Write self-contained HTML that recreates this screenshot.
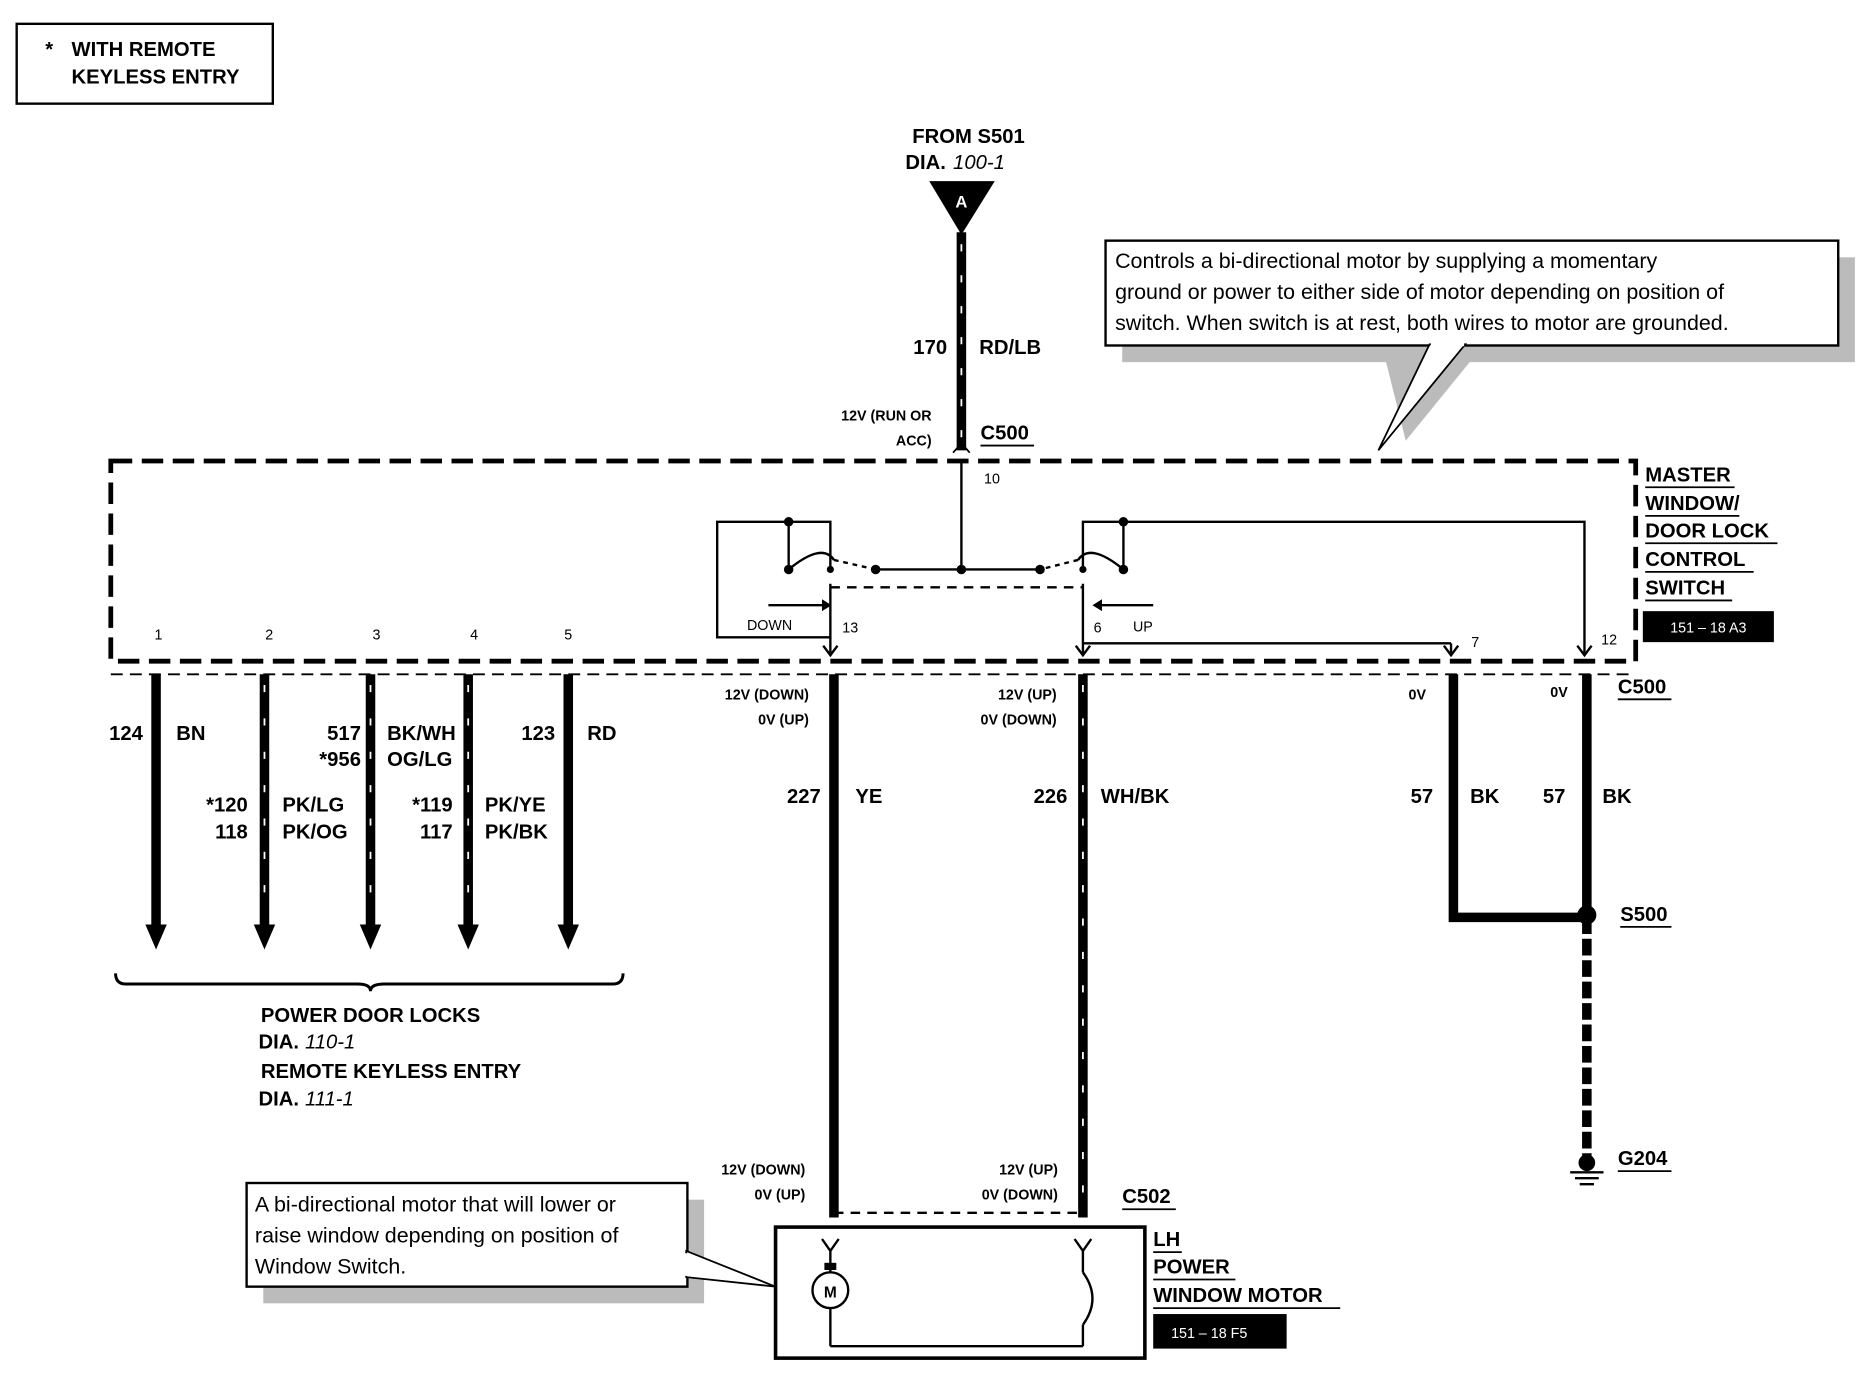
<!DOCTYPE html>
<html><head><meta charset="utf-8"><style>
html,body{margin:0;padding:0;background:#fff;}
svg{display:block;}
text{font-family:"Liberation Sans",sans-serif;font-weight:bold;fill:#000;}
.n{font-weight:normal;}
</style></head><body>
<svg width="1868" height="1376" viewBox="0 0 1568 1155" preserveAspectRatio="none" xmlns="http://www.w3.org/2000/svg">
<!-- top-left legend -->
<rect x="14" y="20" width="215" height="67" fill="none" stroke="#000" stroke-width="2"/>
<text x="38" y="47" font-size="17">*</text>
<text x="60" y="47" font-size="17">WITH REMOTE</text>
<text x="60" y="70" font-size="17">KEYLESS ENTRY</text>

<!-- from S501 -->
<text x="813" y="120" font-size="17" text-anchor="middle">FROM S501</text>
<text x="760" y="142" font-size="17">DIA.</text><text x="800" y="142" font-size="17" font-style="italic" class="n">100-1</text>
<polygon points="780,152 835,152 807,197" fill="#000"/>
<text x="807" y="174" font-size="14" text-anchor="middle" style="fill:#fff">A</text>
<line x1="807" y1="195" x2="807" y2="378" stroke="#000" stroke-width="8"/>
<line x1="807" y1="205" x2="807" y2="375" stroke="#fff" stroke-width="1.5" stroke-dasharray="6 20"/>
<text x="795" y="297" font-size="17" text-anchor="end">170</text>
<text x="822" y="297" font-size="17">RD/LB</text>
<text x="782" y="353" font-size="12" text-anchor="end">12V (RUN OR</text>
<text x="782" y="374" font-size="12" text-anchor="end">ACC)</text>
<text x="823" y="369" font-size="17">C500</text>
<line x1="823" y1="374" x2="868" y2="374" stroke="#000" stroke-width="1.5"/>
<polyline points="800,380 807,372 814,380" fill="none" stroke="#000" stroke-width="1.5"/>

<!-- note top right -->
<rect x="942" y="216" width="615" height="88" fill="#bbb"/>
<polygon points="1160,290 1245,290 1180,370" fill="#bbb"/>
<rect x="928" y="202" width="615" height="88" fill="#fff" stroke="#000" stroke-width="2"/>
<polygon points="1157,378 1200,289 1230,289" fill="#fff" stroke="#000" stroke-width="1.5"/>
<line x1="1201" y1="289" x2="1229" y2="289" stroke="#fff" stroke-width="3"/>
<text x="936" y="225" font-size="18" class="n">Controls a bi-directional motor by supplying a  momentary</text>
<text x="936" y="251" font-size="18" class="n">ground or power to either side of motor depending on position of</text>
<text x="936" y="277" font-size="18" class="n">switch.  When switch is at rest, both wires to motor are grounded.</text>

<!-- dashed switch box -->
<rect x="93" y="387" width="1280" height="168" fill="none" stroke="#000" stroke-width="4" stroke-dasharray="18 8"/>
<text x="1381" y="404" font-size="17">MASTER</text>
<text x="1381" y="428" font-size="17">WINDOW/</text>
<text x="1381" y="451" font-size="17">DOOR LOCK</text>
<text x="1381" y="475" font-size="17">CONTROL</text>
<text x="1381" y="499" font-size="17">SWITCH</text>
<g stroke="#000" stroke-width="1.5">
<line x1="1381" y1="409" x2="1456" y2="409"/><line x1="1381" y1="433" x2="1460" y2="433"/>
<line x1="1381" y1="456" x2="1492" y2="456"/><line x1="1381" y1="480" x2="1472" y2="480"/>
<line x1="1381" y1="504" x2="1454" y2="504"/>
</g>
<rect x="1379" y="513" width="110" height="26" fill="#000"/>
<text x="1434" y="531" font-size="12" text-anchor="middle" class="n" style="fill:#fff">151 – 18 A3</text>

<!-- pin labels -->
<g font-size="12">
<text x="133" y="537" text-anchor="middle" class="n">1</text>
<text x="226" y="537" text-anchor="middle" class="n">2</text>
<text x="316" y="537" text-anchor="middle" class="n">3</text>
<text x="398" y="537" text-anchor="middle" class="n">4</text>
<text x="477" y="537" text-anchor="middle" class="n">5</text>
<text x="707" y="531" class="n">13</text>
<text x="918" y="531" class="n">6</text>
<text x="627" y="529" class="n">DOWN</text>
<text x="951" y="530" class="n">UP</text>
<text x="826" y="406" class="n">10</text>
<text x="1235" y="543" class="n">7</text>
<text x="1344" y="541" class="n">12</text>
</g>

<!-- switch internals -->
<g stroke="#000" stroke-width="2" fill="none">
<line x1="807" y1="387" x2="807" y2="478"/>
<line x1="735" y1="478" x2="873" y2="478"/>
<polyline points="662,438 602,438 602,535 697,535 697,548"/>
<polyline points="662,438 697,438 697,478"/>
<line x1="662" y1="438" x2="662" y2="478"/>
<path d="M662,478 Q690,455 700,470"/>
<line x1="700" y1="470" x2="735" y2="478" stroke-dasharray="4 4"/>
<line x1="697" y1="490" x2="697" y2="535"/>
<polyline points="943,438 909,438 909,478"/>
<polyline points="943,438 1330,438 1330,548"/>
<line x1="943" y1="438" x2="943" y2="478"/>
<path d="M943,478 Q915,455 905,470"/>
<line x1="905" y1="470" x2="873" y2="478" stroke-dasharray="4 4"/>
<line x1="909" y1="490" x2="909" y2="548"/>
<line x1="697" y1="493" x2="909" y2="493" stroke-dasharray="8 6"/>
<line x1="645" y1="508" x2="690" y2="508"/>
<line x1="925" y1="508" x2="968" y2="508"/>
<line x1="909" y1="540" x2="1218" y2="540"/>
<line x1="1218" y1="540" x2="1218" y2="548"/>
</g>
<g fill="#000">
<circle cx="662" cy="438" r="4"/><circle cx="943" cy="438" r="4"/>
<circle cx="807" cy="478" r="4"/><circle cx="735" cy="478" r="4"/><circle cx="873" cy="478" r="4"/>
<circle cx="662" cy="478" r="4"/><circle cx="943" cy="478" r="4"/>
<circle cx="697" cy="478" r="3"/><circle cx="909" cy="478" r="3"/>
<polygon points="690,503 698,508 690,513"/><polygon points="925,503 917,508 925,513"/>
</g>
<g fill="none" stroke="#000" stroke-width="2">
<polyline points="691,542 697,550 703,542"/><polyline points="903,542 909,550 915,542"/>
<polyline points="1212,542 1218,550 1224,542"/><polyline points="1324,542 1330,550 1336,542"/>
</g>

<!-- left wires -->
<g stroke="#000" stroke-width="8">
<line x1="131" y1="566" x2="131" y2="780"/><line x1="222" y1="566" x2="222" y2="780"/>
<line x1="311" y1="566" x2="311" y2="780"/><line x1="393" y1="566" x2="393" y2="780"/>
<line x1="477" y1="566" x2="477" y2="780"/>
</g>
<g stroke="#fff" stroke-width="1.5" stroke-dasharray="6 22">
<line x1="222" y1="575" x2="222" y2="770"/><line x1="311" y1="575" x2="311" y2="770"/><line x1="393" y1="575" x2="393" y2="770"/>
</g>
<g fill="#000">
<polygon points="122,776 140,776 131,797"/><polygon points="213,776 231,776 222,797"/>
<polygon points="302,776 320,776 311,797"/><polygon points="384,776 402,776 393,797"/>
<polygon points="468,776 486,776 477,797"/>
</g>
<g font-size="17">
<text x="120" y="621" text-anchor="end">124</text><text x="148" y="621">BN</text>
<text x="303" y="621" text-anchor="end">517</text><text x="325" y="621">BK/WH</text>
<text x="303" y="643" text-anchor="end">*956</text><text x="325" y="643">OG/LG</text>
<text x="466" y="621" text-anchor="end">123</text><text x="493" y="621">RD</text>
<text x="208" y="681" text-anchor="end">*120</text><text x="237" y="681">PK/LG</text>
<text x="208" y="704" text-anchor="end">118</text><text x="237" y="704">PK/OG</text>
<text x="380" y="681" text-anchor="end">*119</text><text x="407" y="681">PK/YE</text>
<text x="380" y="704" text-anchor="end">117</text><text x="407" y="704">PK/BK</text>
</g>
<path d="M97,817 Q97,826 106,826 L300,826 Q311,826 311,832 Q311,826 322,826 L514,826 Q523,826 523,817" fill="none" stroke="#000" stroke-width="2.5"/>
<text x="219" y="858" font-size="17">POWER DOOR LOCKS</text>
<text x="217" y="880" font-size="17">DIA.</text><text x="256" y="880" font-size="17" font-style="italic" class="n">110-1</text>
<text x="219" y="905" font-size="17">REMOTE KEYLESS ENTRY</text>
<text x="217" y="928" font-size="17">DIA.</text><text x="256" y="928" font-size="17" font-style="italic" class="n">111-1</text>

<!-- center wires -->
<line x1="700" y1="566" x2="700" y2="1022" stroke="#000" stroke-width="8"/>
<line x1="909" y1="566" x2="909" y2="1022" stroke="#000" stroke-width="8"/>
<line x1="909" y1="575" x2="909" y2="1015" stroke="#fff" stroke-width="1.5" stroke-dasharray="6 22"/>
<g font-size="12">
<text x="679" y="587" text-anchor="end">12V (DOWN)</text><text x="679" y="608" text-anchor="end">0V (UP)</text>
<text x="887" y="587" text-anchor="end">12V (UP)</text><text x="887" y="608" text-anchor="end">0V (DOWN)</text>
<text x="1197" y="587" text-anchor="end">0V</text><text x="1316" y="585" text-anchor="end">0V</text>
<text x="676" y="986" text-anchor="end">12V (DOWN)</text><text x="676" y="1007" text-anchor="end">0V (UP)</text>
<text x="888" y="986" text-anchor="end">12V (UP)</text><text x="888" y="1007" text-anchor="end">0V (DOWN)</text>
</g>
<g font-size="17">
<text x="689" y="674" text-anchor="end">227</text><text x="718" y="674">YE</text>
<text x="896" y="674" text-anchor="end">226</text><text x="924" y="674">WH/BK</text>
<text x="1203" y="674" text-anchor="end">57</text><text x="1234" y="674">BK</text>
<text x="1314" y="674" text-anchor="end">57</text><text x="1345" y="674">BK</text>
<text x="1358" y="582">C500</text><text x="1360" y="773">S500</text><text x="1358" y="978">G204</text>
<text x="942" y="1010">C502</text>
</g>
<g stroke="#000" stroke-width="1.5">
<line x1="1358" y1="587" x2="1403" y2="587"/><line x1="1360" y1="778" x2="1403" y2="778"/>
<line x1="1358" y1="983" x2="1403" y2="983"/><line x1="942" y1="1015" x2="987" y2="1015"/>
</g>
<line x1="700" y1="1018" x2="909" y2="1018" stroke="#000" stroke-width="2" stroke-dasharray="8 6"/>

<!-- right ground wires -->
<polyline points="1220,566 1220,770 1332,770" fill="none" stroke="#000" stroke-width="8"/>
<line x1="1332" y1="566" x2="1332" y2="770" stroke="#000" stroke-width="8"/>
<line x1="1332" y1="770" x2="1332" y2="970" stroke="#000" stroke-width="8" stroke-dasharray="14 4"/>
<circle cx="1332" cy="768" r="8" fill="#000"/>
<circle cx="1332" cy="976" r="7" fill="#000"/>
<g stroke="#000" stroke-width="2">
<line x1="1318" y1="984" x2="1346" y2="984"/><line x1="1322" y1="989" x2="1342" y2="989"/><line x1="1326" y1="994" x2="1338" y2="994"/>
</g>
<line x1="93" y1="566" x2="1373" y2="566" stroke="#000" stroke-width="1.5" stroke-dasharray="10 6"/>

<!-- motor -->
<rect x="651" y="1030" width="310" height="110" fill="#fff" stroke="#000" stroke-width="3"/>
<g stroke="#000" stroke-width="2" fill="none">
<polyline points="690,1040 697,1050 704,1040"/><line x1="697" y1="1050" x2="697" y2="1068"/>
<line x1="697" y1="1098" x2="697" y2="1130"/><line x1="697" y1="1130" x2="909" y2="1130"/>
<polyline points="902,1040 909,1050 916,1040"/><line x1="909" y1="1050" x2="909" y2="1068"/>
<path d="M909,1068 Q925,1090 909,1112"/><line x1="909" y1="1112" x2="909" y2="1130"/>
<circle cx="697" cy="1083" r="15"/>
</g>
<rect x="692" y="1060" width="10" height="6" fill="#000"/>
<text x="697" y="1089" font-size="13" text-anchor="middle">M</text>
<text x="968" y="1046" font-size="17">LH</text>
<text x="968" y="1069" font-size="17">POWER</text>
<text x="968" y="1093" font-size="17">WINDOW MOTOR</text>
<g stroke="#000" stroke-width="1.5">
<line x1="968" y1="1051" x2="992" y2="1051"/><line x1="968" y1="1074" x2="1037" y2="1074"/><line x1="968" y1="1098" x2="1125" y2="1098"/>
</g>
<rect x="968" y="1103" width="112" height="29" fill="#000"/>
<text x="1015" y="1123" font-size="12" text-anchor="middle" class="n" style="fill:#fff">151 – 18 F5</text>

<!-- motor note -->
<rect x="221" y="1007" width="370" height="87" fill="#bbb"/>
<rect x="207" y="993" width="370" height="87" fill="#fff" stroke="#000" stroke-width="2"/>
<polygon points="576,1050 651,1080 576,1072" fill="#fff" stroke="#000" stroke-width="1.5"/>
<line x1="576" y1="1052" x2="576" y2="1071" stroke="#fff" stroke-width="3"/>
<text x="214" y="1017" font-size="18" class="n">A bi-directional motor that will lower or</text>
<text x="214" y="1043" font-size="18" class="n">raise window depending on position of</text>
<text x="214" y="1069" font-size="18" class="n">Window Switch.</text>
</svg>
</body></html>
